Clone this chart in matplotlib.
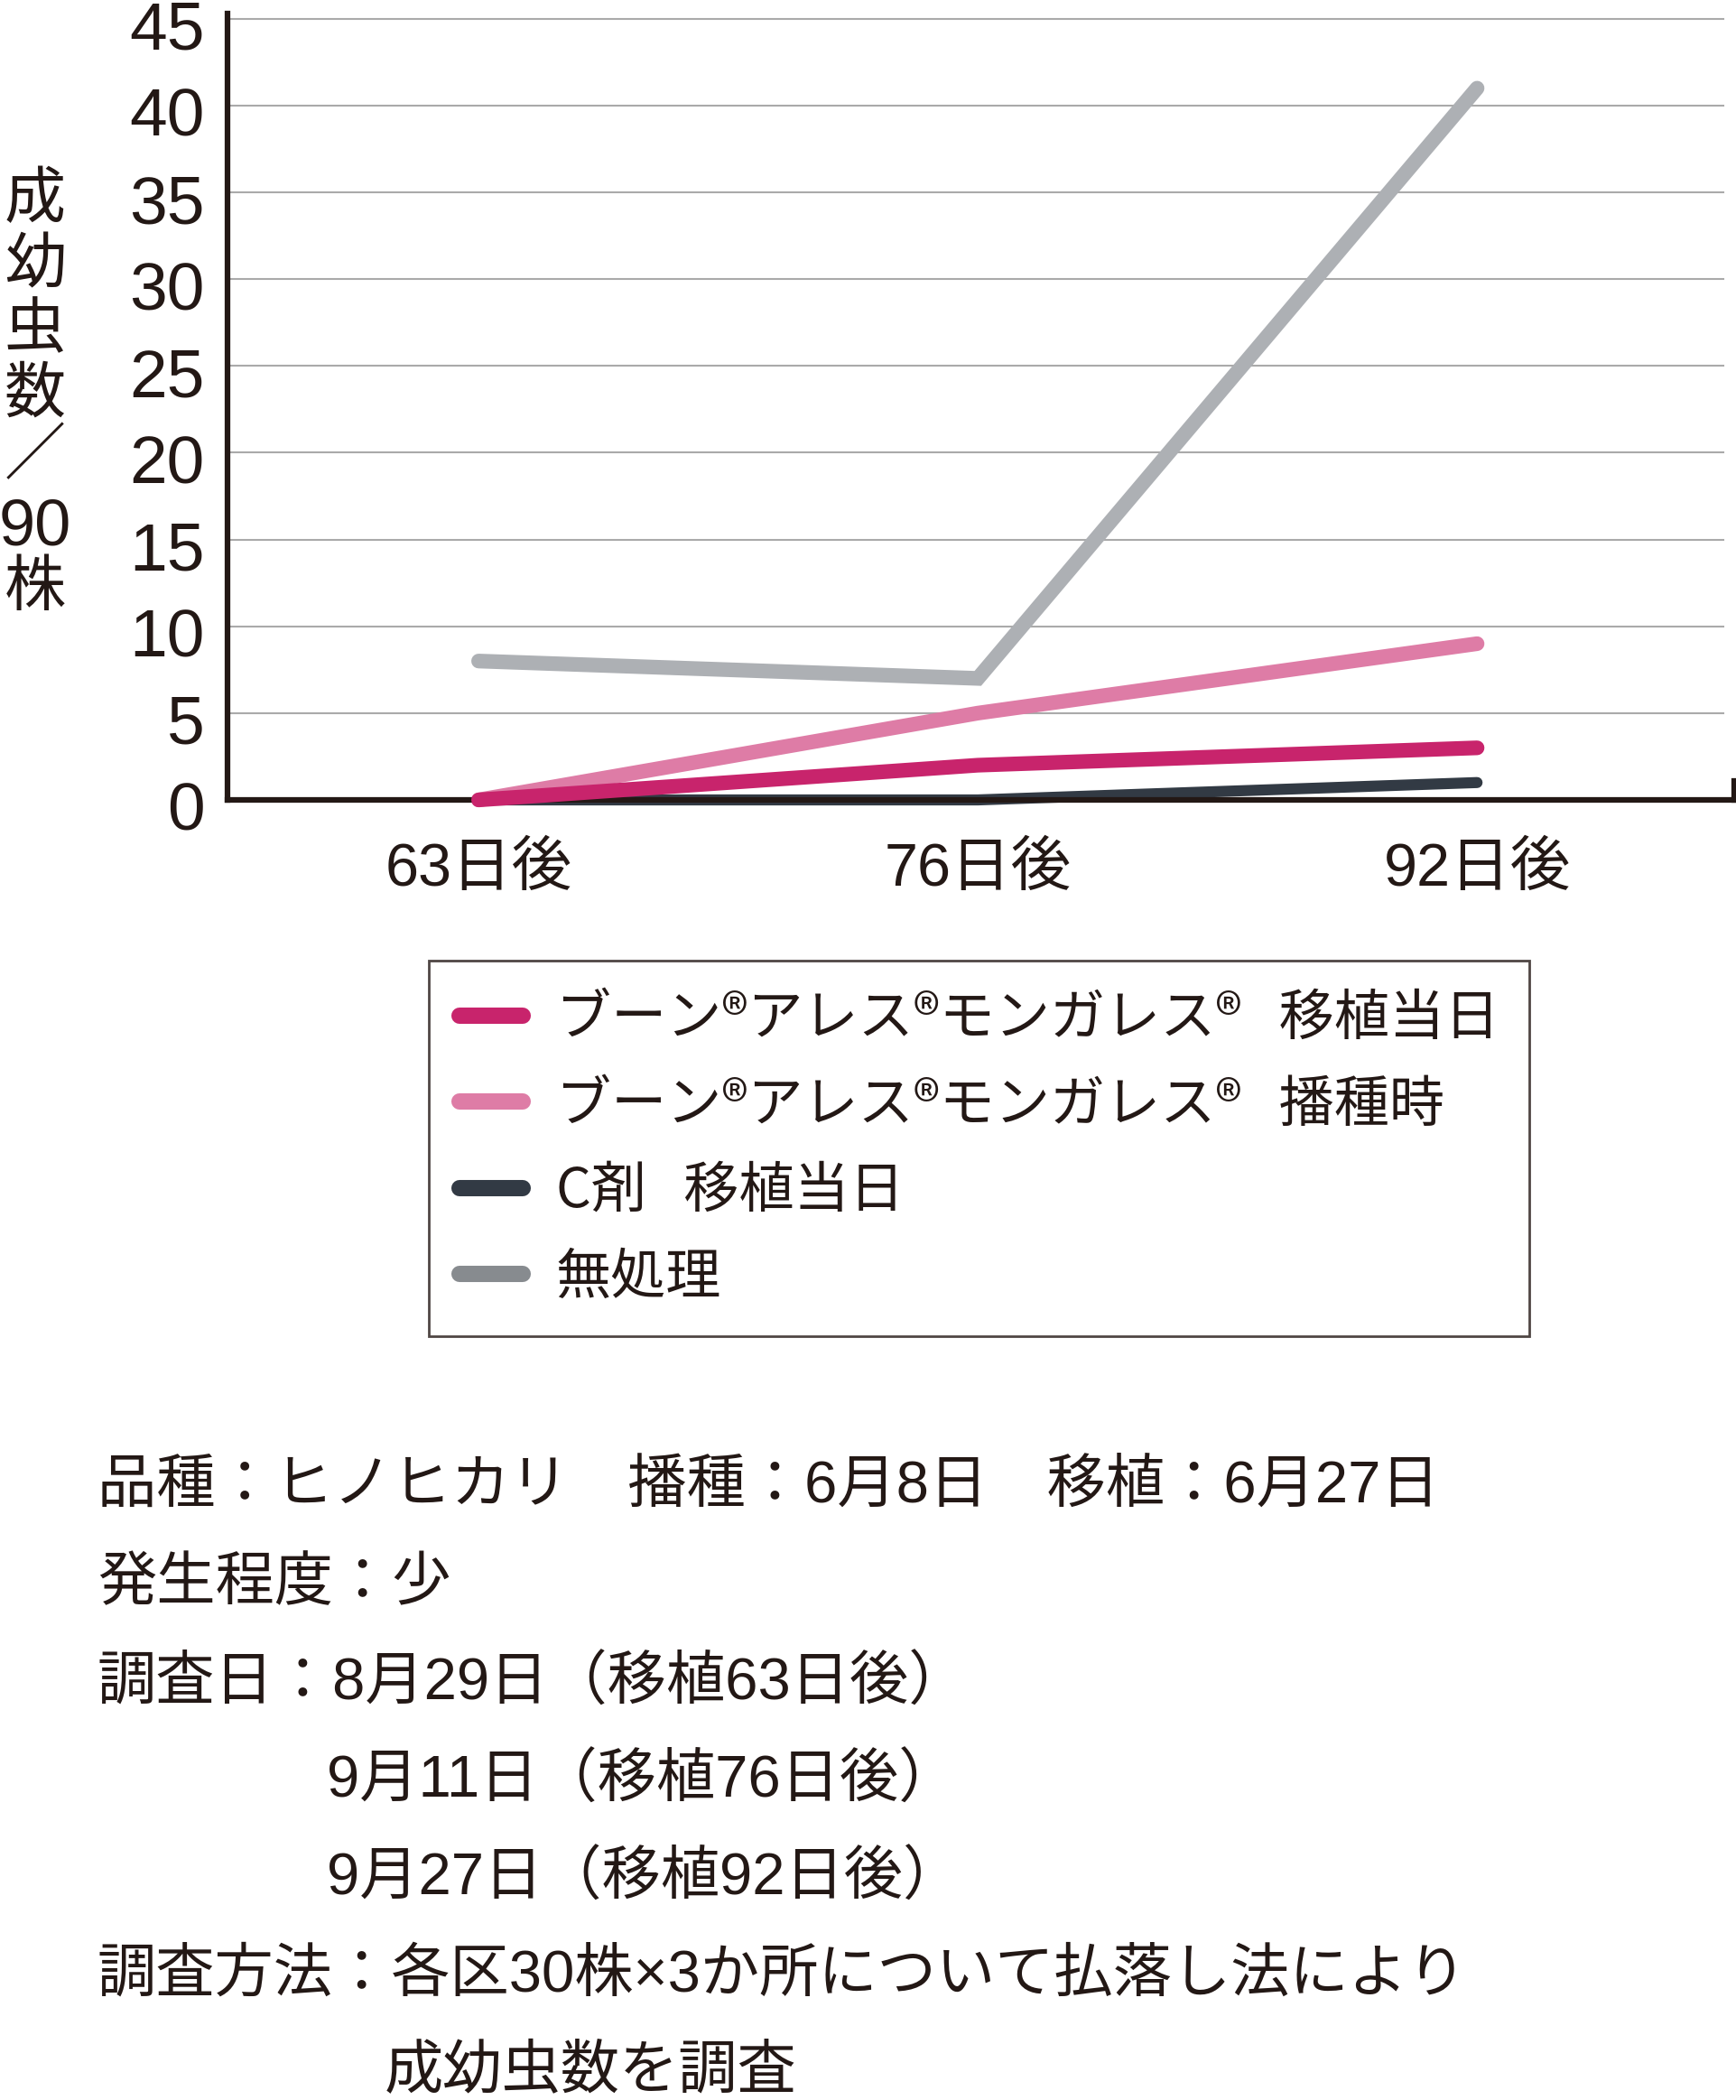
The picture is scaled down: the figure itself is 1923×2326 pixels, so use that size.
import matplotlib
matplotlib.use("Agg")
import matplotlib.pyplot as plt
from matplotlib.lines import Line2D
from matplotlib.transforms import ScaledTranslation

# 调查日（移植后天数）
days = ["63日後", "76日後", "92日後"]
# 各处理的成幼虫数／90株
boon_transplant = [0, 2, 3]
boon_sowing = [0, 5, 9]
c_agent = [0, 0, 1]
untreated = [8, 7, 41]
y_ticks = [0, 5, 10, 15, 20, 25, 30, 35, 40, 45]

labels = ["ブーン®アレス®モンガレス®   移植当日",
          "ブーン®アレス®モンガレス®   播種時",
          "C剤   移植当日",
          "無処理"]
ylabel_chars = ["成", "幼", "虫", "数", "／", "90", "株"]
notes = ["品種：ヒノヒカリ　播種：6月8日　移植：6月27日",
         "発生程度：少",
         "調査日：8月29日（移植63日後）",
         "9月11日（移植76日後）",
         "9月27日（移植92日後）",
         "調査方法：各区30株×3か所について払落し法により",
         "成幼虫数を調査"]

black = "#231815"
c_mag = "#C8246C"
c_pink = "#DE7CA6"
c_dark = "#323A44"
c_gray = "#ADB0B4"

plt.rcParams["font.family"] = ["Noto Sans CJK JP", "DejaVu Sans"]
num_font = ["Liberation Sans", "Noto Sans CJK JP"]

W, H = 1924, 2326
fig = plt.figure(figsize=(W / 100, H / 100), dpi=100)
ax = fig.add_axes([252 / W, 1 - 886 / H, (1921 - 252) / W, (886 - 15) / H])

x = list(range(len(days)))
lw = 11.7
ax.plot(x, untreated, color=c_gray, lw=lw, solid_capstyle="round",
        solid_joinstyle="miter", clip_on=False, zorder=2)
ax.plot(x, boon_sowing, color=c_pink, lw=lw, solid_capstyle="round",
        solid_joinstyle="miter", clip_on=False, zorder=3)
ax.plot(x, c_agent, color=c_dark, lw=8.8, solid_capstyle="round",
        solid_joinstyle="miter", clip_on=False, zorder=3.5)
ax.plot(x, boon_transplant, color=c_mag, lw=lw, solid_capstyle="round",
        solid_joinstyle="miter", clip_on=False, zorder=5)

ax.set_xlim(-0.503, 2.515)
ax.set_ylim(0, 45.3)

# 网格线
for v in y_ticks[1:]:
    ax.axhline(v, xmin=0, xmax=0.993, color="#AAAAAA", lw=1.5, zorder=1)

for s in ["top", "right"]:
    ax.spines[s].set_visible(False)
for s in ["left", "bottom"]:
    ax.spines[s].set_color(black)
    ax.spines[s].set_linewidth(4.5)
    ax.spines[s].set_zorder(4)
# 右端的小竖线
ax.plot([1, 1], [0, 0.024], transform=ax.transAxes, color=black, lw=4.5,
        clip_on=False, solid_capstyle="projecting", zorder=4)

ax.set_yticks(y_ticks)
ax.set_yticklabels([str(v) for v in y_ticks], fontsize=54, family=num_font,
                   color=black)
ax.set_xticks(x)
ax.set_xticklabels(days, fontsize=48, family=num_font, color=black)
ax.tick_params(axis="y", length=0, pad=18)
ax.tick_params(axis="x", length=0, pad=34)
shift = ScaledTranslation(0, -0.07, fig.dpi_scale_trans)
for lab in ax.get_yticklabels():
    lab.set_transform(lab.get_transform() + shift)

# 纵轴标题（竖排）
ylabel_y = [222, 294, 366, 438, 506, 585, 652]
for ch, yy in zip(ylabel_chars, ylabel_y):
    fam = num_font if ch == "90" else ["Noto Sans CJK JP", "DejaVu Sans"]
    fig.text(39 / W, 1 - yy / H, ch, fontsize=52 if ch == "90" else 49,
             family=fam, ha="center", va="center", color=black)

# 图例
handles = [Line2D([], [], color=c, lw=13, solid_capstyle="round")
           for c in [c_mag, c_pink, c_dark, "#878B8F"]]
leg = fig.legend(handles, labels, loc="upper left",
                 bbox_to_anchor=(475 / W, 1 - 1064 / H), fontsize=44,
                 frameon=True, fancybox=False, borderaxespad=0,
                 handlelength=1.15, handletextpad=0.6, labelspacing=0.54,
                 borderpad=0.55, labelcolor=black)
leg.get_frame().set_edgecolor(black)
leg.get_frame().set_linewidth(2)

# 注释
note_y = [1647, 1755, 1865, 1973, 2081, 2188, 2296]
note_x = [108, 108, 108, 362, 362, 108, 426]
for t, xx, yy in zip(notes, note_x, note_y):
    fig.text(xx / W, 1 - yy / H, t, fontsize=47, ha="left", va="center",
             family=num_font, color=black)

plt.savefig("out.png", dpi=100)
